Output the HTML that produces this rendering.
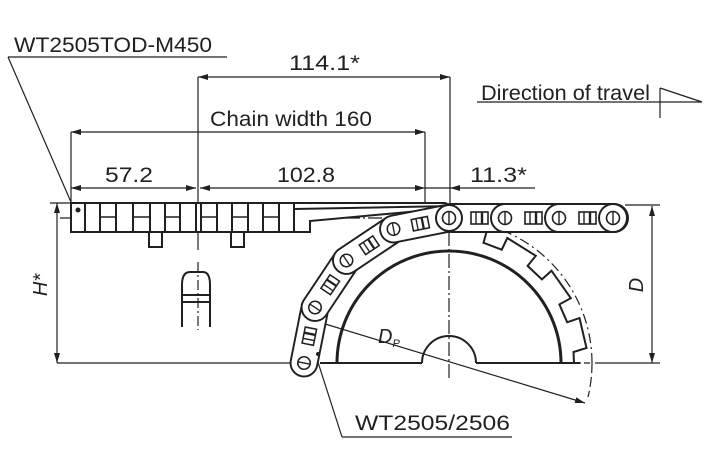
<!DOCTYPE html>
<html><head><meta charset="utf-8"><style>
html,body{margin:0;padding:0;background:#fff;}
svg{display:block;}
text{font-family:"Liberation Sans",sans-serif;fill:#231f20;}
</style></head><body>
<svg width="712" height="476" viewBox="0 0 712 476" xmlns="http://www.w3.org/2000/svg">
<defs>
<marker id="a" viewBox="0 0 10 6" refX="10" refY="3" markerWidth="10" markerHeight="6" orient="auto-start-reverse" markerUnits="userSpaceOnUse"><path d="M0,0L10,3L0,6z" fill="#231f20"/></marker>
<g id="link">
 <rect x="-14" y="-14" width="83" height="28" rx="14" fill="#fff" stroke="#231f20" stroke-width="2"/>
 <circle cx="0" cy="0" r="6.5" fill="none" stroke="#231f20" stroke-width="1.6"/>
 <line x1="0" y1="-6.5" x2="0" y2="6.5" stroke="#231f20" stroke-width="1.4"/>
 <rect x="20" y="-6" width="17" height="12" fill="none" stroke="#231f20" stroke-width="1.6"/>
 <line x1="25" y1="-6" x2="25" y2="6" stroke="#231f20" stroke-width="1.4"/>
 <line x1="31" y1="-6" x2="31" y2="6" stroke="#231f20" stroke-width="2.4"/>
</g>
</defs>
<g stroke="#231f20" fill="none" stroke-width="1.2">
 <line x1="8" y1="57" x2="227" y2="57"/>
 <line x1="8" y1="57" x2="74" y2="209"/>
 <line x1="198" y1="77" x2="450" y2="77" marker-start="url(#a)" marker-end="url(#a)"/>
 <line x1="450" y1="77" x2="450" y2="206"/>
 <line x1="71" y1="132" x2="425" y2="132" marker-start="url(#a)" marker-end="url(#a)"/>
 <line x1="71" y1="132" x2="71" y2="203"/>
 <line x1="425" y1="132" x2="425" y2="210"/>
 <line x1="198" y1="77" x2="198" y2="250"/>
 <line x1="71" y1="188" x2="196" y2="188" marker-start="url(#a)" marker-end="url(#a)"/>
 <line x1="200" y1="188" x2="425" y2="188" marker-start="url(#a)" marker-end="url(#a)"/>
 <line x1="425" y1="188" x2="450" y2="188"/>
 <line x1="535" y1="188" x2="450" y2="188" marker-end="url(#a)"/>
 <line x1="477" y1="102" x2="702" y2="102"/>
 <path d="M660,88 L702,102" stroke-width="1.4"/>
 <line x1="660" y1="88" x2="660" y2="118"/>
 <line x1="57" y1="203" x2="57" y2="363" marker-start="url(#a)" marker-end="url(#a)"/>
 <line x1="50" y1="203" x2="80" y2="203"/>
 <line x1="57" y1="363" x2="300" y2="363"/>
 <line x1="652" y1="206" x2="652" y2="363" marker-start="url(#a)" marker-end="url(#a)"/>
 <line x1="625" y1="205" x2="660" y2="205"/>
 <line x1="595" y1="363" x2="660" y2="363"/>
 <line x1="60" y1="218" x2="452" y2="218" stroke-dasharray="14 3 2 3"/>
 <line x1="449" y1="210" x2="449" y2="380" stroke-dasharray="14 3 2 3"/>
 <line x1="198" y1="262" x2="198" y2="330" stroke-dasharray="10 3 2 3"/>
 <line x1="575" y1="363" x2="590" y2="363" stroke-dasharray="6 3"/>
 <path d="M592,363 A143,143 0 0 0 473,222" stroke-dasharray="10 4 2 4"/>
 <path d="M592,363 A143,143 0 0 1 588,397" stroke-dasharray="10 4"/>
 <line x1="312" y1="320" x2="585" y2="403" marker-end="url(#a)"/>
 <line x1="316" y1="356" x2="342" y2="437"/>
 <line x1="342" y1="437" x2="512" y2="437"/>
</g>
<g stroke="#231f20" fill="none" stroke-width="2">
 <path d="M71,203 L445,203 L452,206 L452,208 L310,221 L310,232 L71,232 Z" fill="#fff"/>
 <line x1="295" y1="209" x2="452" y2="206"/>
 <path d="M85,203V232 M100,203V232 M116,203V232 M133,203V232 M150,203V232 M165,203V232 M180,203V232 M196,203V232 M201,203V232 M217,203V232 M232,203V232 M248,203V232 M263,203V232 M279,203V232 M294,203V232"/>
 <path d="M100,217H116 M133,217H150 M165,217H180 M201,217H217 M232,217H248 M263,217H279" stroke-width="1.4"/>
 <path d="M149,232V247H162V232 M231,232V247H244V232"/>
 <path d="M182,327V285Q182,272 190,272H203Q210,272 210,285V327 M182,295H210 M182,302H210"/>
</g>
<circle cx="78" cy="210" r="2.5" fill="#231f20"/>
<g stroke="#231f20" fill="none">
 <path d="M337,363 A112,112 0 0 1 561,363" stroke-width="3"/>
 <line x1="320" y1="363" x2="422" y2="363" stroke-width="2"/>
 <line x1="476" y1="363" x2="580" y2="363" stroke-width="2"/>
 <path d="M422,363 A27,27 0 0 1 476,363" stroke-width="2"/>
 <path d="M574,363 L573.5,352 L586.5,348 L579.5,318 L567.2,322.3 L559.4,304.4 L570.8,298.2 L551.5,270.7 L541.9,279.4 L527.6,265.9 L535.8,255.8 L507.3,238 L501.8,249.7 L483.5,242.8 L487,230.3 L461,225.5" stroke-width="2"/>
</g>
<use href="#link" x="451" y="218"/>
<use href="#link" x="505" y="218"/>
<use href="#link" x="559" y="218"/>
<g stroke="#231f20" fill="#fff" stroke-width="2">
 <rect x="599" y="204" width="28" height="28" rx="14"/>
 <circle cx="613" cy="218" r="6.5" fill="none" stroke-width="1.6"/><line x1="613" y1="211.5" x2="613" y2="224.5" stroke-width="1.4"/>
</g>
<g transform="translate(449,363)">
 <g transform="rotate(-180) translate(145,0) rotate(101.25)"><use href="#link" transform="scale(0.96)"/></g>
 <g transform="rotate(-157.5) translate(145,0) rotate(101.25)"><use href="#link" transform="scale(0.96)"/></g>
 <g transform="rotate(-135) translate(145,0) rotate(101.25)"><use href="#link" transform="scale(0.96)"/></g>
 <g transform="rotate(-112.5) translate(145,0) rotate(101.25)"><use href="#link" transform="scale(0.96)"/></g>
 <g transform="rotate(-90)" stroke="#231f20" fill="#fff" stroke-width="2">
  <circle cx="145" cy="0" r="13"/>
  <circle cx="145" cy="0" r="6.5" fill="none" stroke-width="1.6"/><line x1="138.5" y1="0" x2="151.5" y2="0" stroke-width="1.4"/>
 </g>
</g>
<circle cx="318" cy="354" r="2" fill="#231f20"/>
<g font-size="21">
<text x="14" y="52" textLength="198" lengthAdjust="spacingAndGlyphs">WT2505TOD-M450</text>
<text x="289" y="70" textLength="71" lengthAdjust="spacingAndGlyphs">114.1*</text>
<text x="210" y="126" textLength="162" lengthAdjust="spacingAndGlyphs">Chain width 160</text>
<text x="105" y="182" textLength="48" lengthAdjust="spacingAndGlyphs">57.2</text>
<text x="277" y="182" textLength="58" lengthAdjust="spacingAndGlyphs">102.8</text>
<text x="470" y="182" textLength="57" lengthAdjust="spacingAndGlyphs">11.3*</text>
<text x="481" y="100" textLength="169" lengthAdjust="spacingAndGlyphs">Direction of travel</text>
<text x="355" y="430" textLength="155" lengthAdjust="spacingAndGlyphs">WT2505/2506</text>
</g>
<text x="378" y="343" font-size="20" font-style="italic">D<tspan font-size="11" dy="4">P</tspan></text>
<text transform="translate(47,285) rotate(-90)" font-size="20" font-style="italic" text-anchor="middle">H*</text>
<text transform="translate(643,285) rotate(-90)" font-size="20" font-style="italic" text-anchor="middle">D</text>
</svg>
</body></html>
